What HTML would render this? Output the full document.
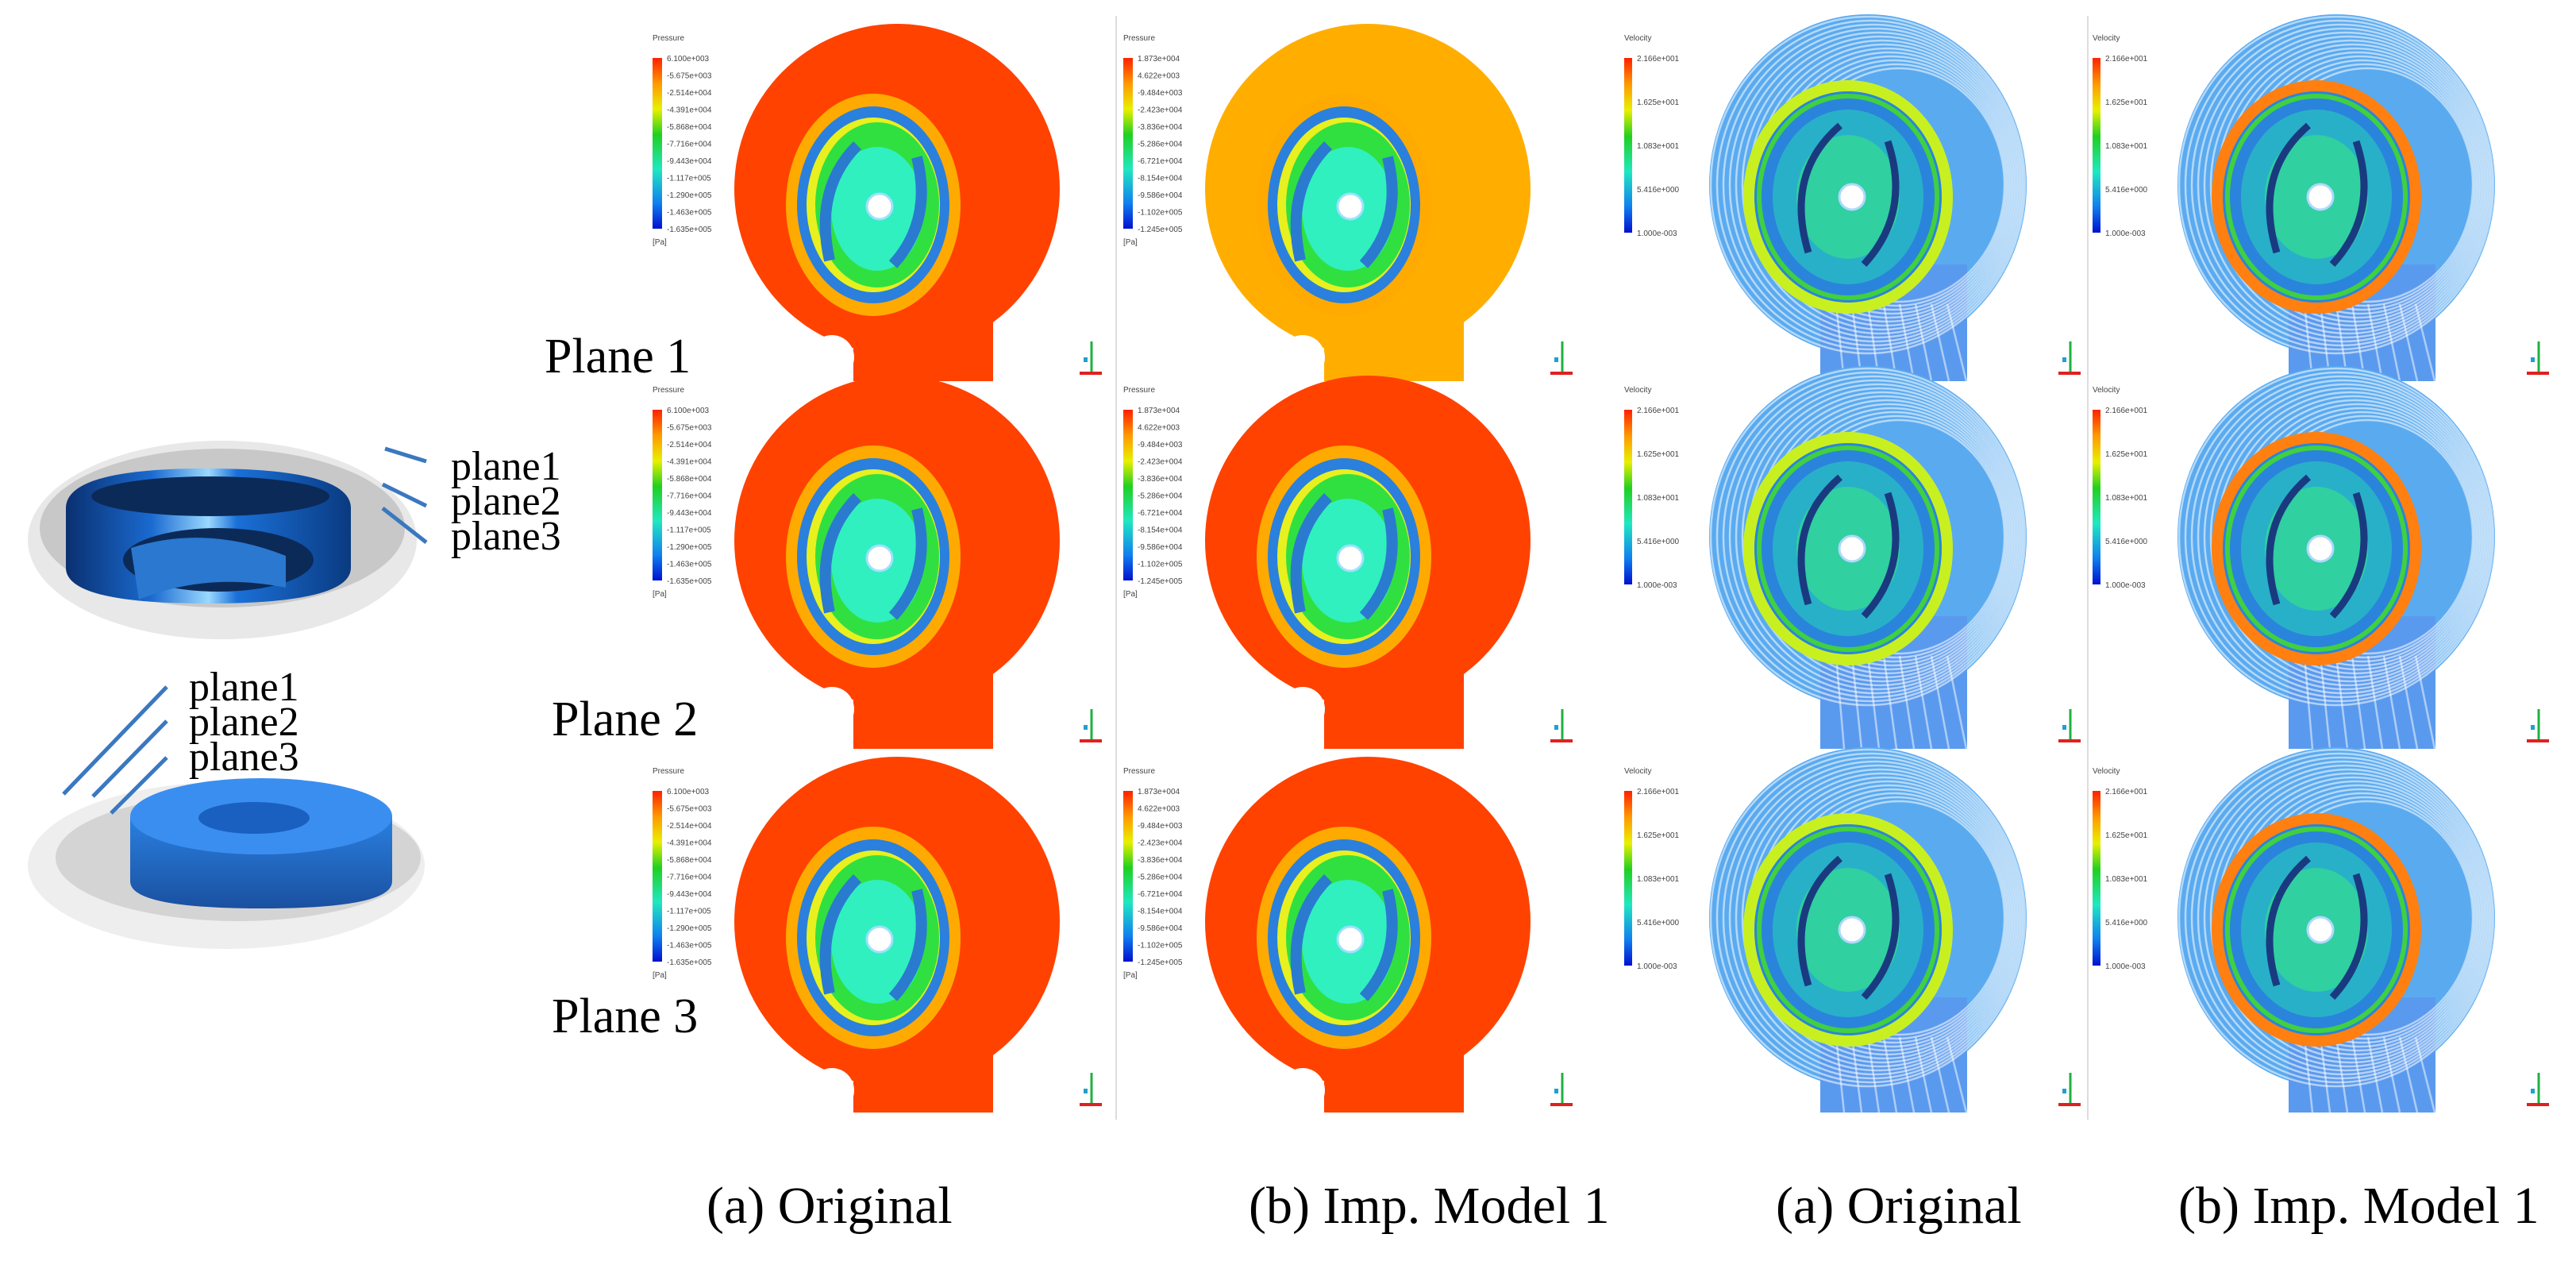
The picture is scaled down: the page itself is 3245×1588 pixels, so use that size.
<!DOCTYPE html>
<html><head><meta charset="utf-8"><style>
html,body{margin:0;padding:0;background:#fff;}
svg{display:block;}
text{font-family:"Liberation Serif",serif;}
.sm{font-family:"Liberation Sans",sans-serif;font-size:10px;fill:#444;}
</style></head><body>
<svg id="fig" width="3245" height="1588" viewBox="0 0 3245 1588" xmlns="http://www.w3.org/2000/svg">
<defs>
<linearGradient id="pbar" x1="0" y1="0" x2="0" y2="1">
<stop offset="0" stop-color="#ff2000"/><stop offset="0.15" stop-color="#ff9900"/><stop offset="0.3" stop-color="#e8f000"/><stop offset="0.45" stop-color="#20d020"/><stop offset="0.65" stop-color="#20e8c0"/><stop offset="0.85" stop-color="#1080f0"/><stop offset="1" stop-color="#0010d0"/>
</linearGradient>
<linearGradient id="disk" x1="0" y1="0" x2="1" y2="0">
<stop offset="0" stop-color="#0a3070"/><stop offset="0.3" stop-color="#1a6ad0"/><stop offset="0.5" stop-color="#9ad8ff"/><stop offset="0.6" stop-color="#1a70d8"/><stop offset="1" stop-color="#0a3a80"/>
</linearGradient>
<linearGradient id="disk2" x1="0" y1="0" x2="0" y2="1">
<stop offset="0" stop-color="#2a80e0"/><stop offset="1" stop-color="#1a50a0"/>
</linearGradient>
</defs>
<g id="left-diagram">
<ellipse cx="280" cy="680" rx="245" ry="125" fill="#e8e8e8"/>
<ellipse cx="280" cy="665" rx="230" ry="100" fill="#c8c8c8"/>
<path d="M83 640 Q83 590 260 590 Q442 590 442 640 L442 715 Q442 760 260 760 Q83 760 83 715 Z" fill="url(#disk)"/>
<ellipse cx="265" cy="625" rx="150" ry="25" fill="#0c2a58"/>
<ellipse cx="275" cy="705" rx="120" ry="40" fill="#0c2a58"/>
<path d="M165 690 Q260 660 360 700 L360 740 Q260 720 175 755 Z" fill="#2a78d0"/>
<ellipse cx="285" cy="1090" rx="250" ry="105" fill="#eeeeee"/>
<ellipse cx="300" cy="1080" rx="230" ry="80" fill="#d4d4d4"/>
<path d="M164 1028 L164 1110 Q164 1144 330 1144 Q494 1144 494 1110 L494 1028 Z" fill="url(#disk2)"/>
<ellipse cx="329" cy="1028" rx="165" ry="48" fill="#3a8ef0"/>
<ellipse cx="320" cy="1030" rx="70" ry="20" fill="#1a60c0"/>
<g stroke="#3a78c0" stroke-width="5" fill="none">
<line x1="537" y1="581" x2="485" y2="565"/><line x1="537" y1="637" x2="482" y2="610"/><line x1="537" y1="683" x2="482" y2="640"/>
<line x1="210" y1="865" x2="80" y2="1000"/><line x1="210" y1="908" x2="117" y2="1003"/><line x1="210" y1="954" x2="140" y2="1024"/>
</g>
<text x="568" y="604" font-size="52">plane1</text>
<text x="568" y="648" font-size="52">plane2</text>
<text x="568" y="692" font-size="52">plane3</text>
<text x="238" y="882" font-size="52">plane1</text>
<text x="238" y="926" font-size="52">plane2</text>
<text x="238" y="970" font-size="52">plane3</text>
</g>
<g id="panels"></g>
<text x="686" y="469" font-size="62">Plane 1</text>
<text x="695" y="926" font-size="62">Plane 2</text>
<text x="695" y="1300" font-size="62">Plane 3</text>
<text x="890" y="1540" font-size="66">(a) Original</text>
<text x="1573" y="1540" font-size="66">(b) Imp. Model 1</text>
<text x="2237" y="1540" font-size="66">(a) Original</text>
<text x="2744" y="1540" font-size="66">(b) Imp. Model 1</text>
<line x1="1406" y1="20" x2="1406" y2="1410" stroke="#ddd" stroke-width="2"/>
<line x1="2630" y1="20" x2="2630" y2="1410" stroke="#ddd" stroke-width="2"/>
</svg>
<script>
const rowTops=[33,476,956];
const rowBottoms=[480,943,1401];
const colCenters=[1130,1723,2353,2943];
const pressureTicks=[["6.100e+003","-5.675e+003","-2.514e+004","-4.391e+004","-5.868e+004","-7.716e+004","-9.443e+004","-1.117e+005","-1.290e+005","-1.463e+005","-1.635e+005"],["1.873e+004","4.622e+003","-9.484e+003","-2.423e+004","-3.836e+004","-5.286e+004","-6.721e+004","-8.154e+004","-9.586e+004","-1.102e+005","-1.245e+005"]];
const velTicks=["2.166e+001","1.625e+001","1.083e+001","5.416e+000","1.000e-003"];
const bgColors=[["#ff4200","#ffae00"],["#ff4200","#ff4200"],["#ff4200","#ff4200"]];
const NS="http://www.w3.org/2000/svg";
const root=document.getElementById('panels');
function el(t,a,p){const e=document.createElementNS(NS,t);for(const k in a)e.setAttribute(k,a[k]);(p||root).appendChild(e);return e;}
function legend(g,x,y,ticks,tall){
  el('text',{x:x,y:y+8,class:'sm'},g).textContent='Pressure';
  el('rect',{x:x,y:y+30,width:12,height:tall,fill:'url(#pbar)'},g);
  ticks.forEach((t,i)=>{const tx=el('text',{x:x+18,y:y+34+i*tall/(ticks.length-1),class:'sm'},g);tx.textContent=t;});
  el('text',{x:x,y:y+tall+50,class:'sm'},g).textContent='[Pa]';
}
function triad(g,x,y){
  el('line',{x1:x+15,y1:y+40,x2:x+15,y2:y,stroke:'#20b040','stroke-width':3},g);
  el('line',{x1:x,y1:y+40,x2:x+28,y2:y+40,stroke:'#e02020','stroke-width':4},g);
  el('rect',{x:x+5,y:y+20,width:5,height:6,fill:'#20a0d0'},g);
}
function pressure(r,c){
  const cx=colCenters[c],top=rowTops[r],bot=rowBottoms[r],cy=top+205;
  const g=el('g',{});
  
  
  const bg=bgColors[r][c];
  el('ellipse',{cx:cx,cy:cy,rx:205,ry:208,fill:bg},g);
  el('rect',{x:cx-55,y:cy+100,width:176,height:bot-cy-100,fill:bg},g);
  el('circle',{cx:cx-82,cy:cy+212,r:28,fill:'#fff'},g);
  const ix=cx-30,iy=cy+20;
  el('ellipse',{cx:ix,cy:iy,rx:110,ry:140,fill:'#ffaa00'},g);
  el('ellipse',{cx:ix,cy:iy,rx:96,ry:124,fill:'#2a80dc'},g);
  el('ellipse',{cx:ix,cy:iy,rx:84,ry:110,fill:'#e8f020'},g);
  el('ellipse',{cx:ix+5,cy:iy,rx:78,ry:104,fill:'#30e040'},g);
  el('ellipse',{cx:ix+5,cy:iy+5,rx:58,ry:78,fill:'#30f0c0'},g);
  el('path',{d:`M${ix-20} ${iy-75} Q${ix-75} ${iy-20} ${ix-55} ${iy+70}`,stroke:'#2a7ad0','stroke-width':14,fill:'none'},g);
  el('path',{d:`M${ix+25} ${iy+75} Q${ix+75} ${iy+20} ${ix+55} ${iy-60}`,stroke:'#2a7ad0','stroke-width':14,fill:'none'},g);
  el('circle',{cx:ix+8,cy:iy+2,r:16,fill:'#fff',stroke:'#a0e0ff','stroke-width':3},g);
  legend(g,cx-308,top+10,pressureTicks[c],215);
  triad(g,cx+230,bot-50);
}
function velocity(r,c){
  const cx=colCenters[c],top=rowTops[r],bot=rowBottoms[r],cy=top+200;
  const g=el('g',{});
  
  
  el('ellipse',{cx:cx,cy:cy,rx:200,ry:215,fill:'#5aaaf0'},g);
  el('rect',{x:cx-60,y:cy+100,width:185,height:bot-cy-100,fill:'#5a9aee'},g);
  for(let k=0;k<14;k++){el('ellipse',{cx:cx+3*k,cy:cy,rx:198-k*5,ry:212-k*5,fill:'none',stroke:'#ffffff','stroke-opacity':0.55,'stroke-width':2.5},g);}
  for(let k=0;k<8;k++){el('line',{x1:cx-40+k*20,y1:cy+150,x2:cx-30+k*22,y2:bot,stroke:'#ffffff','stroke-opacity':0.5,'stroke-width':2.5},g);}
  const ix=cx-25,iy=cy+15;
  const ring=c===3?'#ff8010':'#c8f020';
  el('ellipse',{cx:ix,cy:iy,rx:125,ry:140,fill:'#2a84dc',stroke:ring,'stroke-width':14},g);
  el('ellipse',{cx:ix,cy:iy,rx:112,ry:127,fill:'none',stroke:'#40d040','stroke-width':6},g);
  el('ellipse',{cx:ix,cy:iy,rx:95,ry:110,fill:'#28b0c8'},g);
  el('ellipse',{cx:ix,cy:iy,rx:65,ry:78,fill:'#30d0a0'},g);
  el('path',{d:`M${ix-10} ${iy-90} Q${ix-80} ${iy-30} ${ix-50} ${iy+70}`,stroke:'#1a3a80','stroke-width':9,fill:'none'},g);
  el('path',{d:`M${ix+20} ${iy+85} Q${ix+80} ${iy+20} ${ix+50} ${iy-70}`,stroke:'#1a3a80','stroke-width':9,fill:'none'},g);
  el('circle',{cx:ix+5,cy:iy,r:16,fill:'#fff',stroke:'#b0d8ff','stroke-width':3},g);
  const lx=cx-307,ly=top+10;
  el('text',{x:lx,y:ly+8,class:'sm'},g).textContent='Velocity';
  el('rect',{x:lx,y:ly+30,width:10,height:220,fill:'url(#pbar)'},g);
  velTicks.forEach((t,i)=>{const tx=el('text',{x:lx+16,y:ly+34+i*55,class:'sm'},g);tx.textContent=t;});
  triad(g,cx+240,bot-50);
}
for(let r=0;r<3;r++){pressure(r,0);pressure(r,1);velocity(r,2);velocity(r,3);}
</script>
</body></html>
